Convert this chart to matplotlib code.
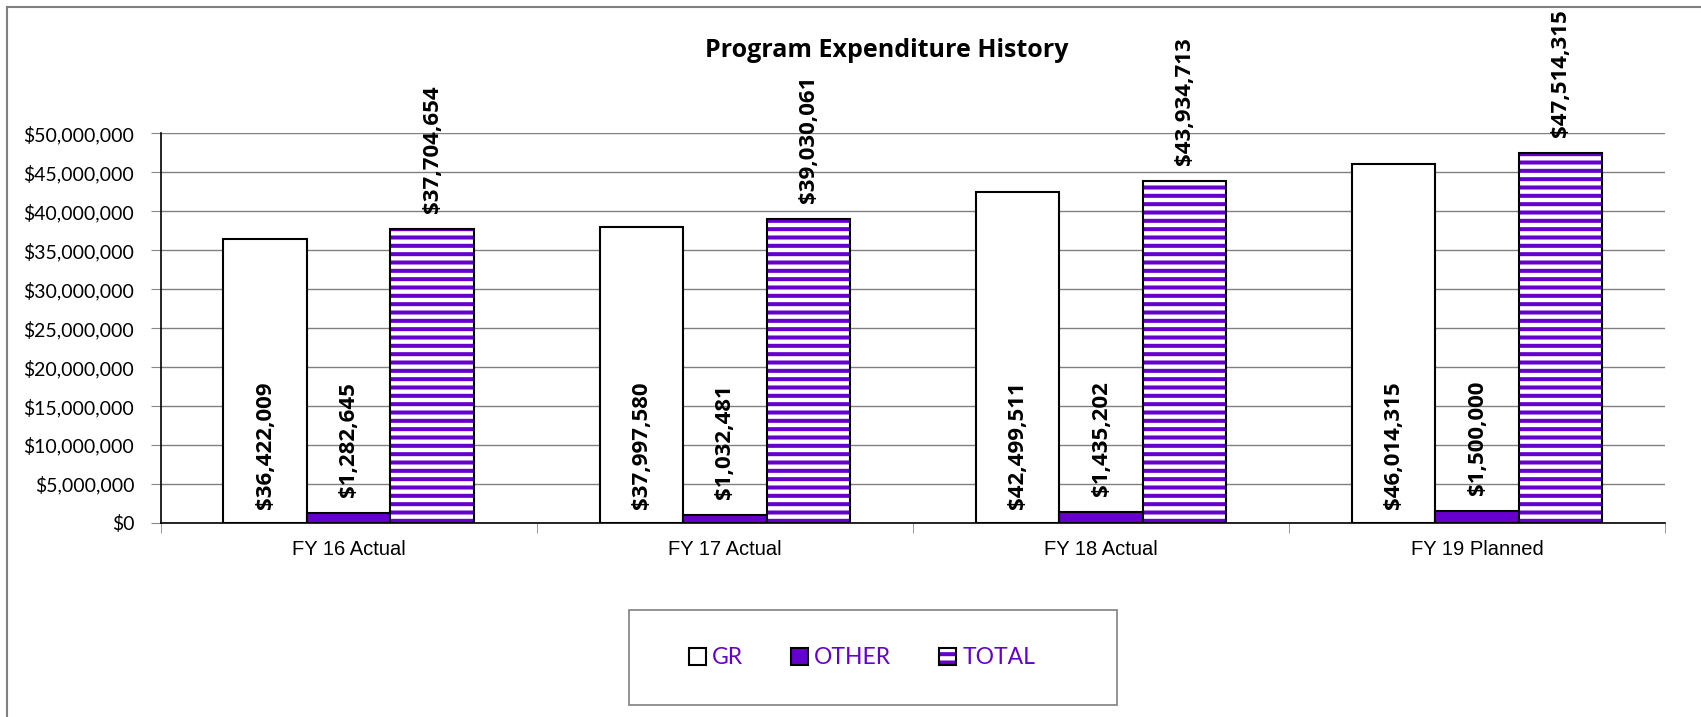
import matplotlib
matplotlib.use("Agg")
import numpy as np
import matplotlib.pyplot as plt
from matplotlib.patches import Patch, Rectangle
from matplotlib.lines import Line2D
from matplotlib.legend_handler import HandlerTuple
from matplotlib.ticker import FuncFormatter, FixedLocator

# dati
categories = ["FY 16 Actual", "FY 17 Actual", "FY 18 Actual", "FY 19 Planned"]
gr = [36422009, 37997580, 42499511, 46014315]
other = [1282645, 1032481, 1435202, 1500000]
total = [37704654, 39030061, 43934713, 47514315]

purple = "#6600CC"
plt.rcParams["hatch.linewidth"] = 2.9

fig = plt.figure(figsize=(17.01, 7.17), dpi=100)
ax = fig.add_axes([0.0944, 0.2706, 0.979 - 0.0944, 0.814 - 0.2706])

x = np.arange(len(categories))
w = 0.222

ax.bar(x - w, gr, w, color="white", edgecolor="black", linewidth=1.5, zorder=3)
ax.bar(x, other, w, color=purple, edgecolor="black", linewidth=1.5, zorder=3)
# barre a righe: prima il tratteggio, poi il bordo nero sopra
ax.bar(x + w, total, w, color="white", edgecolor=purple, hatch="--", linewidth=0, zorder=3)
ax.bar(x + w, total, w, fill=False, edgecolor="black", linewidth=1.5, zorder=4)

lab = dict(rotation=90, ha="center", va="bottom", fontsize=16, fontweight="bold",
           family="Open Sans", textcoords="offset pixels", zorder=5)
for i in range(len(categories)):
    ax.annotate(f"${gr[i]:,.0f}", (x[i] - w, 0), xytext=(0, 14), **lab)
    ax.annotate(f"${other[i]:,.0f}", (x[i], other[i]), xytext=(0, 16), **lab)
    ax.annotate(f"${total[i]:,.0f}", (x[i] + w, total[i]), xytext=(0, 16), **lab)

ax.set_xlim(-0.5, len(categories) - 0.5)
ax.set_ylim(0, 50000000)
ax.set_yticks(np.arange(0, 50000001, 5000000))
ax.yaxis.set_major_formatter(FuncFormatter(lambda v, p: f"${v:,.0f}"))
ax.grid(axis="y", color="#808080", linewidth=1, zorder=0)
ax.set_axisbelow(True)

ax.set_xticks(x)
ax.set_xticklabels(categories, family="Liberation Sans", fontsize=14.5)
ax.xaxis.set_minor_locator(FixedLocator(np.arange(-0.5, len(categories), 1)))
ax.tick_params(axis="x", which="major", length=0, pad=12)
ax.tick_params(axis="x", which="minor", length=7, color="#888888")
ax.tick_params(axis="y", length=7, color="#888888", pad=12)
for t in ax.get_yticklabels():
    t.set_family("Lato")
    t.set_fontsize(14)

for s in ["top", "right"]:
    ax.spines[s].set_visible(False)
ax.spines["left"].set_color("black")
ax.spines["bottom"].set_color("black")
ax.spines["left"].set_linewidth(1.2)
ax.spines["bottom"].set_linewidth(1.2)

fig.text(0.5215, 0.929, "Program Expenditure History", ha="center", va="center",
         fontsize=18, fontweight="bold", family="Open Sans")

# legenda in un riquadro grigio
fig.patches.append(Rectangle((629 / 1701, 1 - 705 / 717), (1117 - 629) / 1701, 95 / 717,
                             transform=fig.transFigure, fill=False, edgecolor="#808080",
                             linewidth=1.2))
h_gr = Patch(facecolor="white", edgecolor="black", linewidth=1.5)
h_ot = Patch(facecolor=purple, edgecolor="black", linewidth=1.5)
h_to = (Patch(facecolor="white", edgecolor=purple, hatch="--", linewidth=0),
        Patch(fill=False, edgecolor="black", linewidth=1.5))
leg = fig.legend([h_gr, h_ot, h_to], ["GR", "OTHER", "TOTAL"], ncol=3,
                 loc="center", bbox_to_anchor=(862 / 1701, 1 - 658 / 717),
                 frameon=False, handler_map={tuple: HandlerTuple(ndivide=1)},
                 handlelength=0.75, handleheight=0.75, handletextpad=0.25,
                 columnspacing=2.1, prop={"family": "Lato", "size": 16.5})
for t in leg.get_texts():
    t.set_color(purple)

# cornice sinistra e superiore
fig.lines.append(Line2D([7 / 1701, 7 / 1701], [0, 1 - 7 / 717], transform=fig.transFigure,
                        color="#808080", linewidth=1.5))
fig.lines.append(Line2D([7 / 1701, 1], [1 - 7 / 717, 1 - 7 / 717], transform=fig.transFigure,
                        color="#808080", linewidth=1.5))

fig.savefig("out.png", dpi=100)
